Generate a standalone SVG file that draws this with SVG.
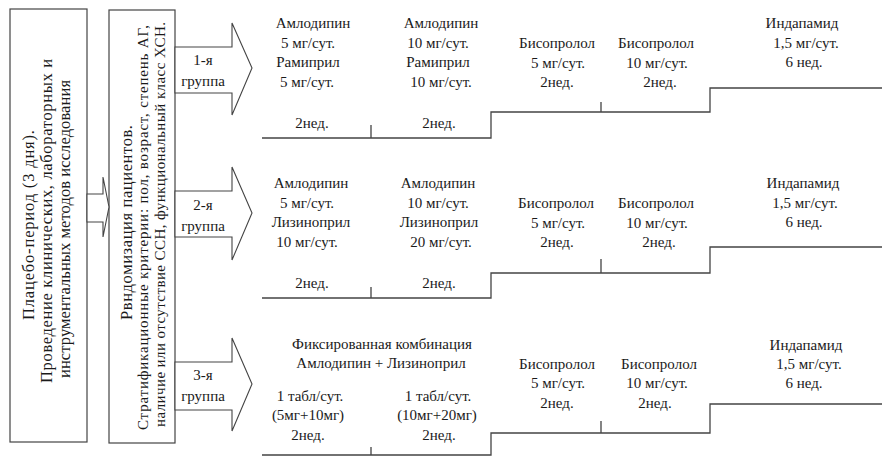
<svg xmlns="http://www.w3.org/2000/svg" width="882" height="457" viewBox="0 0 882 457">
<style>
.box{fill:#fff;stroke:#444;stroke-width:1.2}
.arr{fill:#fff;stroke:#444;stroke-width:1.1}
.ln{fill:none;stroke:#444;stroke-width:1.3}
text{font-family:"Liberation Serif","Times New Roman",serif;fill:#1a1a1a;text-anchor:middle}
.t{font-size:15px}
.r{font-size:16.5px}
.s{font-size:15px}
</style>
<rect width="882" height="457" fill="#fff"/>
<g id="placebo">
<rect class="box" x="10" y="9" width="77" height="433"/>
<text class="r" transform="translate(34,225) rotate(-90)" textLength="190">Плацебо-период (3 дня).</text>
<text class="r" transform="translate(52,221) rotate(-90)" textLength="324">Проведение  клинических, лабораторных и</text>
<text class="r" transform="translate(70,229) rotate(-90)" textLength="298">инструментальных методов исследования</text>
</g>
<g id="randomization">
<rect class="box" x="109" y="10" width="66" height="433"/>
<text class="r" transform="translate(132,222.5) rotate(-90)" textLength="195">Рвндомизация пациентов.</text>
<text class="s" transform="translate(148,227.5) rotate(-90)" textLength="405">Стратификационные критерии: пол, возраст, степень АГ,</text>
<text class="s" transform="translate(165,224.5) rotate(-90)" textLength="405">наличие или отсутствие ССН, функциональный класс ХСН.</text>
</g>
<g id="connectors">
<polygon class="arr" points="87,194 103,194 103,177 109,207 103,237 103,222 87,222"/>
<polygon class="arr" points="175,47 232,47 232,23 252,68 232,115 232,93 175,93"/>
<polygon class="arr" points="175,191 232,191 232,167 252,213 232,260 232,237 175,237"/>
<polygon class="arr" points="175,362 232,362 232,338 252,384 232,431 232,410 175,410"/>
</g>
<g id="group1-label">
<text class="t" x="203" y="65">1-я</text>
<text class="t" x="203" y="86">группа</text>
</g>
<g id="group2-label">
<text class="t" x="203" y="210">2-я</text>
<text class="t" x="203" y="231">группа</text>
</g>
<g id="group3-label">
<text class="t" x="203" y="380">3-я</text>
<text class="t" x="203" y="401">группа</text>
</g>
<g id="timelines">
<path class="ln" d="M262,138 H491 V112 H710 V88 H882 M371,125 V138 M601,102 V112"/>
<path class="ln" d="M262,298 H491 V273 H710 V247 H882 M371,287 V298 M601,259 V273"/>
<path class="ln" d="M262,455 H491 V433 H710 V404 H882 M371,447 V455 M601,421 V433"/>
</g>
<g id="g1-step1" class="t">
<text class="t" x="313" y="28">Амлодипин</text>
<text class="t" x="308" y="48">5 мг/сут.</text>
<text class="t" x="308" y="67">Рамиприл</text>
<text class="t" x="307" y="87">5 мг/сут.</text>
<text class="t" x="312" y="128">2нед.</text>
</g>
<g id="g1-step2">
<text class="t" x="441" y="28">Амлодипин</text>
<text class="t" x="438" y="48">10 мг/сут.</text>
<text class="t" x="438" y="67">Рамиприл</text>
<text class="t" x="441" y="87">10 мг/сут.</text>
<text class="t" x="439" y="128">2нед.</text>
</g>
<g id="g1-step3">
<text class="t" x="557" y="48">Бисопролол</text>
<text class="t" x="558" y="68">5 мг/сут.</text>
<text class="t" x="557" y="87">2нед.</text>
</g>
<g id="g1-step4">
<text class="t" x="656" y="48">Бисопролол</text>
<text class="t" x="657" y="68">10 мг/сут.</text>
<text class="t" x="660" y="87">2нед.</text>
</g>
<g id="g1-step5">
<text class="t" x="802" y="28">Индапамид</text>
<text class="t" x="806" y="48">1,5 мг/сут.</text>
<text class="t" x="804" y="67">6 нед.</text>
</g>
<g id="g2-step1">
<text class="t" x="311" y="188">Амлодипин</text>
<text class="t" x="307" y="208">5 мг/сут.</text>
<text class="t" x="311" y="227">Лизиноприл</text>
<text class="t" x="307" y="247">10 мг/сут.</text>
<text class="t" x="312" y="288">2нед.</text>
</g>
<g id="g2-step2">
<text class="t" x="438" y="188">Амлодипин</text>
<text class="t" x="438" y="208">10 мг/сут.</text>
<text class="t" x="439" y="227">Лизиноприл</text>
<text class="t" x="441" y="247">20 мг/сут.</text>
<text class="t" x="439" y="288">2нед.</text>
</g>
<g id="g2-step3">
<text class="t" x="556" y="208">Бисопролол</text>
<text class="t" x="558" y="228">5 мг/сут.</text>
<text class="t" x="557" y="247">2нед.</text>
</g>
<g id="g2-step4">
<text class="t" x="656" y="208">Бисопролол</text>
<text class="t" x="657" y="228">10 мг/сут.</text>
<text class="t" x="659" y="247">2нед.</text>
</g>
<g id="g2-step5">
<text class="t" x="803" y="188">Индапамид</text>
<text class="t" x="805" y="208">1,5 мг/сут.</text>
<text class="t" x="804" y="227">6 нед.</text>
</g>
<g id="g3-combo">
<text class="t" x="382" y="349">Фиксированная комбинация</text>
<text class="t" x="381" y="368">Амлодипин + Лизиноприл</text>
</g>
<g id="g3-step1">
<text class="t" x="310" y="401">1 табл/сут.</text>
<text class="t" x="308" y="420">(5мг+10мг)</text>
<text class="t" x="308" y="440">2нед.</text>
</g>
<g id="g3-step2">
<text class="t" x="438" y="401">1 табл/сут.</text>
<text class="t" x="437" y="420">(10мг+20мг)</text>
<text class="t" x="439" y="440">2нед.</text>
</g>
<g id="g3-step3">
<text class="t" x="557" y="369">Бисопролол</text>
<text class="t" x="558" y="388">5 мг/сут.</text>
<text class="t" x="557" y="408">2нед.</text>
</g>
<g id="g3-step4">
<text class="t" x="659" y="369">Бисопролол</text>
<text class="t" x="657" y="388">10 мг/сут.</text>
<text class="t" x="655" y="408">2нед.</text>
</g>
<g id="g3-step5">
<text class="t" x="806" y="350">Индапамид</text>
<text class="t" x="809" y="369">1,5 мг/сут.</text>
<text class="t" x="804" y="388">6 нед.</text>
</g>
</svg>
